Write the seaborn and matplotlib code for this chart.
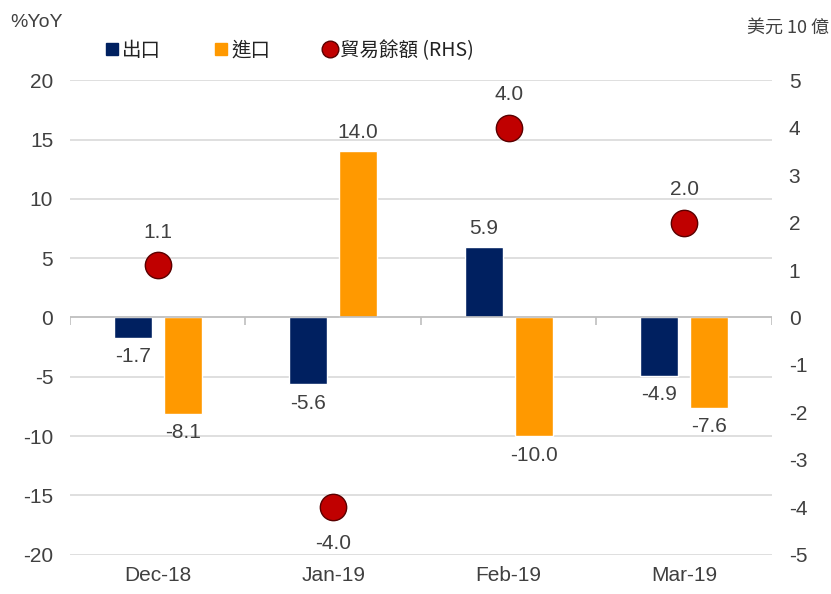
import numpy as np
import pandas as pd
import seaborn as sns
import matplotlib
matplotlib.use("Agg")
from matplotlib import pyplot as plt
from matplotlib.lines import Line2D

months = ["Dec-18", "Jan-19", "Feb-19", "Mar-19"]
exports = [-1.7, -5.6, 5.9, -4.9]
imports = [-8.1, 14.0, -10.0, -7.6]
balance = [1.1, -4.0, 4.0, 2.0]
series_names = ["出口", "進口"]

navy = "#002060"
orange = "#FF9900"
red = "#C00000"
txt = "#404040"

sns.set_style("white")
plt.rcParams["font.family"] = ["Liberation Sans", "Noto Sans CJK TC", "DejaVu Sans"]
plt.rcParams["axes.unicode_minus"] = False

df = pd.DataFrame({
    "month": months * 2,
    "series": [series_names[0]] * 4 + [series_names[1]] * 4,
    "value": exports + imports,
})

fig = plt.figure(figsize=(8.31, 5.94), dpi=100)
ax = fig.add_axes([0.084, 0.066, 0.845, 0.799])

sns.barplot(data=df, x="month", y="value", hue="series", order=months,
            hue_order=series_names, palette=[navy, orange], width=0.57,
            gap=0.24, ax=ax, legend=False, saturation=1)

for cont in ax.containers:
    ax.bar_label(cont, fmt="%.1f", padding=7, fontsize=15, color=txt)

ax.set_ylim(-20, 20)
ax.set_yticks(range(-20, 21, 5))
ax.set_xlim(-0.5, len(months) - 0.5)
ax.yaxis.grid(True, color="#D9D9D9", linewidth=1.2)
ax.set_axisbelow(True)
ax.axhline(0, color="#BFBFBF", linewidth=1.2, zorder=1)
ax.vlines(np.arange(len(months) + 1) - 0.5, -0.6, 0, color="#BFBFBF",
          linewidth=1.2, zorder=1)
for s in ax.spines.values():
    s.set_visible(False)
ax.set_xlabel("")
ax.set_ylabel("")
ax.tick_params(axis="both", length=0, labelsize=15, colors=txt, pad=8)
ax.tick_params(axis="y", pad=12)

ax2 = ax.twinx()
sns.scatterplot(x=np.arange(len(months)), y=balance, ax=ax2, s=360,
                color=red, edgecolor="#5A0000", linewidth=1, zorder=5)
ax2.set_ylim(-5, 5)
ax2.set_yticks(range(-5, 6))
for s in ax2.spines.values():
    s.set_visible(False)
ax2.tick_params(axis="y", length=0, labelsize=15, colors=txt, pad=12)
for i, v in enumerate(balance):
    off = 17 if v >= 0 else -19
    ax2.annotate(f"{v:.1f}", (i, v), xytext=(0, off), textcoords="offset points",
                 ha="center", va="bottom" if v >= 0 else "top",
                 fontsize=15, color=txt)

fig.text(0.012, 0.955, "%YoY", fontsize=14, color=txt)
fig.text(0.998, 0.945, "美元 10 億", fontsize=13, color=txt, ha="right",
         family=["Noto Sans CJK TC", "DejaVu Sans"])

handles = [
    Line2D([], [], marker="s", linestyle="", color=navy, markersize=8),
    Line2D([], [], marker="s", linestyle="", color=orange, markersize=8),
    Line2D([], [], marker="o", linestyle="", color=red,
           markeredgecolor="#5A0000", markersize=12),
]
fig.legend(handles, series_names + ["貿易餘額 (RHS)"], loc="center left",
           bbox_to_anchor=(0.1, 0.915), ncol=3, frameon=False,
           handletextpad=-0.1, handlelength=1.2, columnspacing=2.5,
           labelcolor="#222222",
           prop={"family": ["Noto Sans CJK TC", "DejaVu Sans"], "size": 14})

fig.savefig("out.png", dpi=100)
